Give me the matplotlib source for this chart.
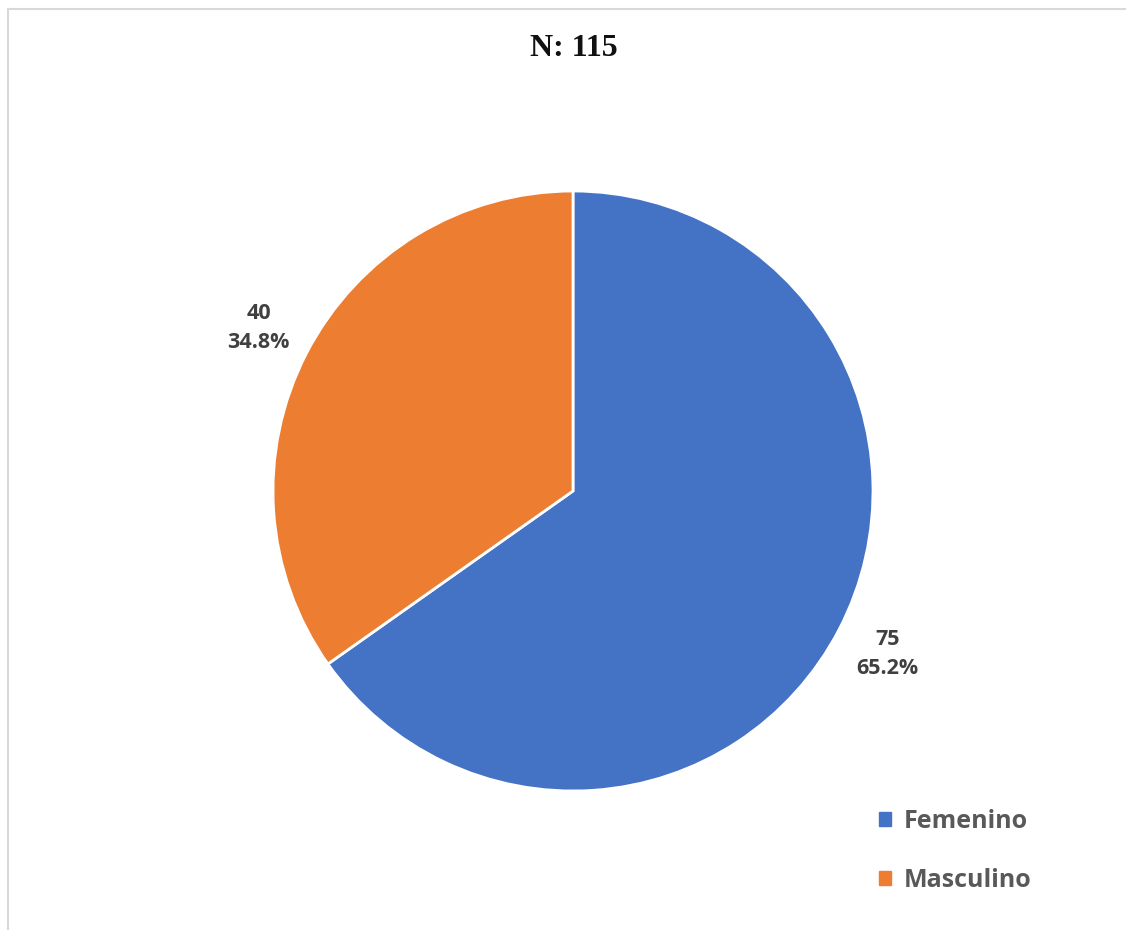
import matplotlib.pyplot as plt
from matplotlib.lines import Line2D
import matplotlib.patches as mpatches
import numpy as np

# Data
labels = ["Femenino", "Masculino"]
counts = [75, 40]
colors = ["#4472C4", "#ED7D31"]
title = "N: 115"

W, H = 1126, 930
fig = plt.figure(figsize=(W / 100, H / 100), dpi=100)

# light gray frame (top and left visible)
fig.add_artist(Line2D([8 / W, 8 / W], [0, 1 - 9 / H], color="#d9d9d9", lw=1.5))
fig.add_artist(Line2D([8 / W, 1], [1 - 9 / H, 1 - 9 / H], color="#d9d9d9", lw=1.5))

# pie axes: center (573, 491), radius ~300 px
cx, cy, r = 573, 491, 300
ax = fig.add_axes([(cx - r) / W, (H - cy - r) / H, 2 * r / W, 2 * r / H])
total = sum(counts)


def fmt(pct):
    n = int(round(pct * total / 100))
    return f"{n}\n{pct:.1f}%"


wedges = ax.pie(
    counts, colors=colors, startangle=90, counterclock=False, radius=1,
    wedgeprops=dict(edgecolor="white", linewidth=2),
)[0]
# data labels outside the slices
for w, n in zip(wedges, counts):
    ang = np.deg2rad((w.theta1 + w.theta2) / 2)
    ax.text(1.18 * np.cos(ang), 1.18 * np.sin(ang), fmt(100 * n / total),
            ha="center", va="center", fontsize=15.5, fontweight="bold",
            color="#404040", family="Open Sans", linespacing=1.5)
ax.set_xlim(-1, 1)
ax.set_ylim(-1, 1)
ax.set_aspect("equal")
ax.axis("off")

fig.text(574 / W, 1 - 48 / H, title, ha="center", va="center",
         fontsize=23, fontweight="bold", family="Liberation Serif", color="#111111")

handles = [mpatches.Patch(color=c, label=l) for c, l in zip(colors, labels)]
leg = fig.legend(handles=handles, loc="center left",
                 bbox_to_anchor=(856 / W, 1 - 851 / H), frameon=False,
                 handlelength=0.5, handleheight=0.5, handletextpad=0.5,
                 labelspacing=1.35, prop=dict(family="Open Sans", weight="bold", size=18))
for t in leg.get_texts():
    t.set_color("#595959")

fig.savefig("out.png", dpi=100)
